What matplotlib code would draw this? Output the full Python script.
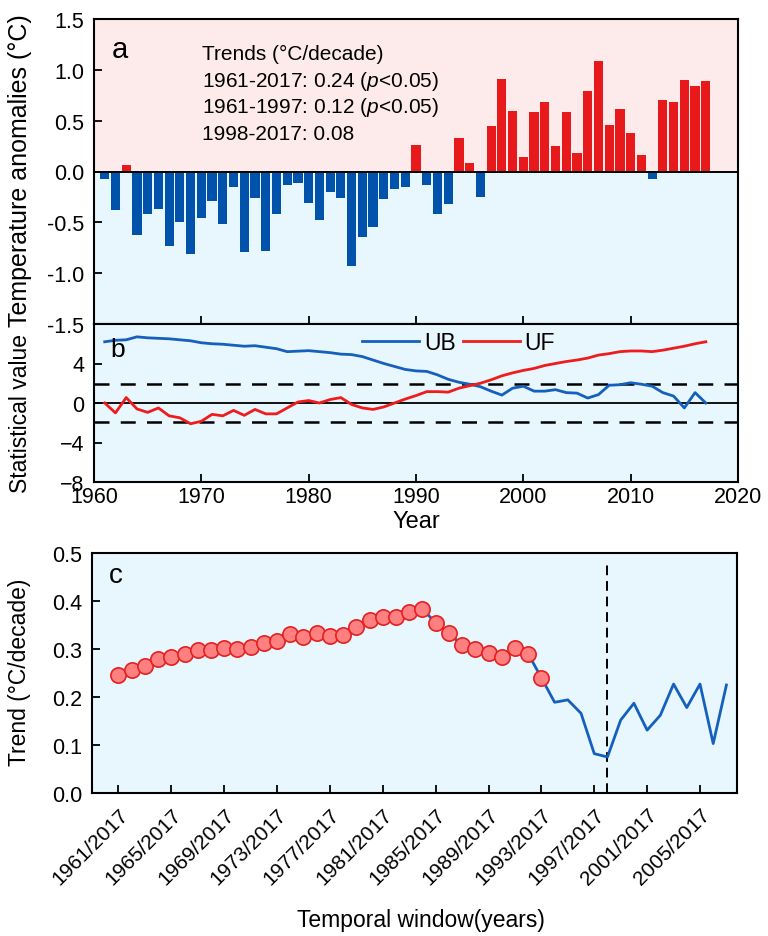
import matplotlib
matplotlib.use("Agg")
import matplotlib.pyplot as plt
import matplotlib.transforms as mtransforms
import numpy as np

plt.rcParams['font.family'] = ['Liberation Sans', 'DejaVu Sans']
plt.rcParams['mathtext.fontset'] = 'custom'
plt.rcParams['mathtext.rm'] = 'Liberation Sans'
plt.rcParams['mathtext.it'] = 'Liberation Sans:italic'

# ---------------- data ----------------
years = list(range(1961, 2018))
anomalies = [-0.07, -0.38, 0.06, -0.62, -0.42, -0.37, -0.73, -0.50, -0.81, -0.46,
             -0.29, -0.52, -0.15, -0.79, -0.26, -0.78, -0.42, -0.13, -0.11, -0.31,
             -0.48, -0.20, -0.26, -0.93, -0.64, -0.55, -0.27, -0.17, -0.15, 0.26,
             -0.13, -0.42, -0.32, 0.33, 0.08, -0.25, 0.45, 0.91, 0.60, 0.14,
             0.59, 0.68, 0.25, 0.59, 0.18, 0.79, 1.09, 0.46, 0.61, 0.38,
             0.16, -0.07, 0.70, 0.68, 0.90, 0.84, 0.89]

ub = [6.2, 6.35, 6.4, 6.7, 6.6, 6.55, 6.5, 6.4, 6.3, 6.1,
      6.0, 5.95, 5.85, 5.75, 5.8, 5.65, 5.5, 5.2, 5.25, 5.3,
      5.2, 5.1, 4.95, 4.9, 4.7, 4.35, 4.0, 3.7, 3.4, 3.25,
      3.2, 2.85, 2.4, 2.1, 1.9, 1.65, 1.2, 0.8, 1.5, 1.7,
      1.2, 1.2, 1.35, 1.05, 1.0, 0.5, 0.85, 1.8, 1.85, 2.05,
      1.9, 1.7, 1.05, 0.7, -0.5, 1.05, 0.0]

uf = [0.0, -1.0, 0.55, -0.6, -0.95, -0.5, -1.3, -1.5, -2.1, -1.85,
      -1.15, -1.3, -0.75, -1.25, -0.65, -1.1, -1.1, -0.5, 0.1, 0.25,
      0.0, 0.35, 0.55, -0.15, -0.5, -0.65, -0.4, 0.0, 0.4, 0.75,
      1.15, 1.15, 1.1, 1.5, 1.75, 2.0, 2.35, 2.75, 3.05, 3.3,
      3.5, 3.8, 4.0, 4.2, 4.35, 4.55, 4.85, 5.0, 5.2, 5.27,
      5.27, 5.2, 5.35, 5.55, 5.75, 6.0, 6.2]

window_starts = list(range(1961, 2008))
window_labels = [f"{y}/2017" for y in window_starts]
trends = [0.246, 0.256, 0.265, 0.279, 0.284, 0.289, 0.297, 0.297, 0.303, 0.299,
          0.305, 0.313, 0.317, 0.331, 0.325, 0.334, 0.328, 0.329, 0.345, 0.361,
          0.366, 0.366, 0.377, 0.384, 0.354, 0.333, 0.308, 0.299, 0.292, 0.283,
          0.303, 0.290, 0.240, 0.189, 0.194, 0.166, 0.082, 0.075, 0.152, 0.187,
          0.131, 0.162, 0.227, 0.178, 0.227, 0.103, 0.225]
n_significant = 33

trend_lines = ["Trends (\u00b0C/decade)",
               "1961-2017: 0.24 ($p$<0.05)",
               "1961-1997: 0.12 ($p$<0.05)",
               "1998-2017: 0.08"]

# ---------------- style ----------------
PINK = '#FDEBEB'
LBLUE = '#E8F6FD'
BAR_BLUE = '#0052AA'
BAR_RED = '#E8191A'
LINE_BLUE = '#1560BD'
LINE_RED = '#EE1C1C'
TICK_FS = 15.5

W, H = 768, 937
fig = plt.figure(figsize=(W / 100, H / 100), dpi=100)

def px_axes(l, t, r, b):
    return fig.add_axes([l / W, (H - b) / H, (r - l) / W, (b - t) / H])

def style_axes(ax):
    for s in ax.spines.values():
        s.set_linewidth(1.5)
    ax.tick_params(direction='in', length=6, width=1.3, labelsize=TICK_FS)
    ax.tick_params(axis='y', pad=7)

# ---------------- panel a ----------------
ax_a = px_axes(94, 20, 738, 325)
ax_a.axhspan(0, 1.5, color=PINK, zorder=0, lw=0)
ax_a.axhspan(-1.5, 0, color=LBLUE, zorder=0, lw=0)
bar_colors = [BAR_RED if v > 0 else BAR_BLUE for v in anomalies]
ax_a.bar(years, anomalies, width=0.86, color=bar_colors, zorder=2)
ax_a.axhline(0, color='black', lw=1.4, zorder=3)
ax_a.set_xlim(1960, 2020)
ax_a.set_ylim(-1.5, 1.5)
ax_a.set_yticks(np.arange(-1.5, 1.51, 0.5))
ax_a.set_yticklabels([f"{v:.1f}" for v in np.arange(-1.5, 1.51, 0.5)])
ax_a.set_xticks(range(1960, 2021, 10))
ax_a.set_xticklabels([])
style_axes(ax_a)
ax_a.set_ylabel("Temperature anomalies (\u00b0C)", fontsize=18)
ax_a.yaxis.set_label_coords(-0.096, 0.505)
ax_a.text(0.028, 0.90, "a", transform=ax_a.transAxes, fontsize=21, va='center', ha='left')
blend = mtransforms.blended_transform_factory(ax_a.transAxes, ax_a.transData)
for t, yv in zip(trend_lines, [1.16, 0.895, 0.635, 0.375]):
    ax_a.text(0.168, yv, t, transform=blend, fontsize=15, va='center', ha='left')

# ---------------- panel b ----------------
ax_b = px_axes(94, 325, 738, 483)
ax_b.set_facecolor(LBLUE)
ax_b.plot(years, ub, color=LINE_BLUE, lw=2.0, label='UB', zorder=3)
ax_b.plot(years, uf, color=LINE_RED, lw=2.0, label='UF', zorder=3)
ax_b.axhline(0, color='black', lw=1.3, zorder=2)
for c in (1.96, -1.96):
    ax_b.axhline(c, color='black', lw=1.8, linestyle=(0, (6, 4.5)), zorder=2)
ax_b.set_xlim(1960, 2020)
ax_b.set_ylim(-8, 8)
ax_b.set_yticks([-8, -4, 0, 4])
ax_b.set_xticks(range(1960, 2021, 10))
style_axes(ax_b)
ax_b.tick_params(axis='x', pad=3)
ax_b.set_xlabel("Year", fontsize=17)
ax_b.xaxis.set_label_coords(0.5, -0.175)
ax_b.set_ylabel("Statistical value", fontsize=16.5)
ax_b.yaxis.set_label_coords(-0.096, 0.44)
ax_b.text(0.025, 0.84, "b", transform=ax_b.transAxes, fontsize=19, va='center', ha='left')
ax_b.legend(loc='center', bbox_to_anchor=(0.566, 0.885), ncol=2, frameon=False,
            fontsize=16.5, handlelength=2.5, handletextpad=0.2, columnspacing=0.3,
            borderpad=0, borderaxespad=0)

# ---------------- panel c ----------------
ax_c = px_axes(92, 554, 737, 794)
ax_c.set_facecolor(LBLUE)
xi = np.arange(len(trends))
ax_c.plot(xi, trends, color=LINE_BLUE, lw=2.0, zorder=3)
ax_c.plot(xi[:n_significant], trends[:n_significant], linestyle='none', marker='o',
          markersize=11, markerfacecolor='#FF8080', markeredgecolor='#E52020',
          markeredgewidth=1.2, zorder=4)
brk = window_starts.index(1998)
ax_c.axvline(brk, ymin=0, ymax=0.955, color='black', lw=1.4, linestyle=(0, (5, 3)), zorder=2)
ax_c.set_xlim(-2.0, 46.8)
ax_c.set_ylim(0, 0.5)
ax_c.set_yticks(np.arange(0, 0.51, 0.1))
ax_c.set_yticklabels([f"{v:.1f}" for v in np.arange(0, 0.51, 0.1)])
tick_idx = list(range(0, len(window_labels), 4))
ax_c.set_xticks(tick_idx)
ax_c.set_xticklabels([window_labels[i] for i in tick_idx], rotation=45, ha='right',
                     rotation_mode='anchor')
style_axes(ax_c)
ax_c.tick_params(axis='x', labelsize=15, pad=8)
ax_c.set_xlabel("Temporal window(years)", fontsize=16.5)
ax_c.xaxis.set_label_coords(0.51, -0.48)
ax_c.set_ylabel("Trend (\u00b0C/decade)", fontsize=16.5)
ax_c.yaxis.set_label_coords(-0.094, 0.508)
ax_c.text(0.026, 0.91, "c", transform=ax_c.transAxes, fontsize=20, va='center', ha='left')

fig.savefig("out.png", dpi=100)
